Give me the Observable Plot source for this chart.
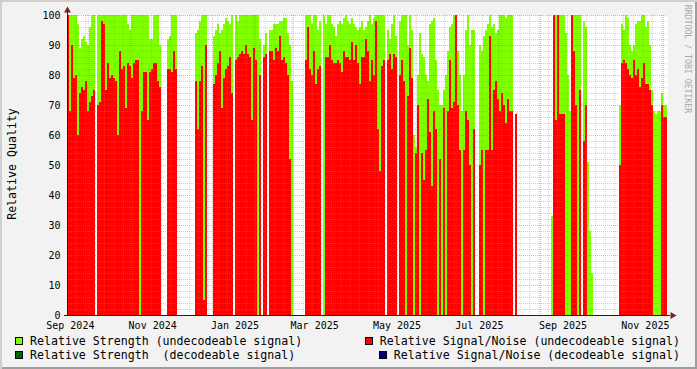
<!DOCTYPE html>
<html><head><meta charset="utf-8">
<script src="https://cdn.jsdelivr.net/npm/d3@7"></script>
<script src="https://cdn.jsdelivr.net/npm/@observablehq/plot@0.6"></script>
<style>
html,body{margin:0;padding:0;background:#fff;}
#chart{position:relative;width:697px;height:369px;background:#F2F2F2;box-shadow:inset 2px 2px 0 #CFCFCF, inset -2px -2px 0 #9E9E9E;font-family:"DejaVu Sans Mono",monospace;overflow:hidden;}
#chart svg{display:block;position:absolute;left:0;top:0;}
.legend-row{position:absolute;left:15px;right:17px;height:14px;display:flex;justify-content:space-between;align-items:center;font-size:11.6px;white-space:pre;color:#000;line-height:14px;}
.item{display:flex;align-items:center;}
.box{width:8px;height:8px;border:1px solid #000;box-sizing:border-box;margin-right:7px;}
#ylab{position:absolute;left:12px;top:164px;transform:translate(-50%,-50%) rotate(-90deg);font-size:11.6px;white-space:nowrap;color:#000;}
#wm{position:absolute;left:688px;top:59px;transform:translate(-50%,-50%) rotate(90deg);font-size:8.2px;white-space:nowrap;color:#a8a8a8;}
</style></head>
<body><div id="chart"></div>
<script>
// ---- data (one value per ~1.48-day sample) ----
const startTime = "2024-09-15T14:24:00Z";
const endTime = "2025-12-04T02:24:00Z";

const redSNR = [
100,68,90,79,80,60,74,76,75,78,
68,71,73,75,null,70,71,98,97,75,
84,79,80,79,78,60,88,82,83,69,
84,83,79,84,85,85,0,68,81,81,
65,81,82,84,84,78,76,null,null,null,
82,82,81,88,82,null,null,null,null,null,
null,null,null,null,78,62,78,83,5,90,
null,null,null,77,80,84,88,69,79,82,
83,86,74,null,85,86,87,88,87,90,
87,86,65,89,85,0,80,null,86,87,
null,88,88,85,89,88,93,85,86,84,
80,52,0,null,null,null,null,null,null,85,
96,82,80,88,77,82,83,null,0,86,
86,90,85,84,84,85,84,81,88,86,
86,85,91,85,90,84,77,86,86,92,
88,78,85,80,98,62,48,83,85,null,
85,87,82,87,86,null,80,85,78,0,
73,89,79,0,54,70,0,54,45,55,
72,61,43,68,62,0,52,0,69,0,
68,85,69,71,100,70,55,0,55,68,
65,50,0,62,null,null,50,55,0,55,
55,93,55,75,78,72,68,74,70,64,
72,68,68,null,67,null,null,null,null,null,
null,null,null,null,null,null,null,null,null,null,
null,null,0,100,65,100,67,67,67,0,
0,0,100,88,70,0,75,null,58,70,
0,0,0,null,null,null,null,null,null,null,
null,null,null,null,null,null,50,84,85,84,
82,80,79,85,80,82,76,79,84,77,
77,75,70,0,0,0,0,70,66,66
];

const greenStrength = [
100,100,100,100,100,97,89,92,93,91,
90,96,100,100,null,100,100,100,100,100,
100,100,100,100,100,100,100,100,100,100,
97,95,100,100,100,100,100,100,100,100,
100,92,92,100,100,100,90,null,null,null,
92,93,100,100,100,null,null,null,null,null,
null,null,null,null,94,95,98,100,100,100,
null,null,null,93,95,97,94,95,97,99,
98,97,100,null,100,98,100,100,100,100,
100,100,100,100,100,100,92,null,90,94,
null,95,95,97,97,97,98,98,99,99,
94,90,78,null,null,null,null,null,null,100,
100,100,97,100,100,95,98,null,100,97,
100,100,97,96,93,97,98,97,99,100,
98,97,99,97,96,95,96,98,95,96,
98,100,97,99,100,100,100,100,100,null,
95,92,97,100,93,null,98,100,100,100,
90,100,95,60,56,80,94,87,86,80,
78,97,98,99,85,75,70,70,75,80,
88,96,97,100,100,88,80,68,80,95,
100,90,95,95,null,null,90,88,93,95,
97,100,96,97,94,95,100,100,100,99,
100,100,100,null,67,null,null,null,null,null,
null,null,null,null,null,null,null,null,null,null,
null,null,33,100,100,100,100,100,100,94,
80,68,100,100,100,100,100,null,98,96,
51,28,14,null,null,null,null,null,null,null,
null,null,null,null,null,null,70,97,95,100,
99,90,88,90,97,98,98,100,100,96,
98,90,75,68,67,68,68,74,70,70
];

const yTicks = [0,10,20,30,40,50,60,70,80,90,100];
const xLabelMonths = ["2024-09-01","2024-11-01","2025-01-01","2025-03-01","2025-05-01","2025-07-01","2025-09-01","2025-11-01"];
const xLabels = ["Sep 2024","Nov 2024","Jan 2025","Mar 2025","May 2025","Jul 2025","Sep 2025","Nov 2025"];

const legendItems = [
  [{label:"Relative Strength (undecodeable signal)", color:"#7FFF00"}, {label:"Relative Signal/Noise (undecodeable signal)", color:"#FF0000"}],
  [{label:"Relative Strength  (decodeable signal)", color:"#006400"}, {label:"Relative Signal/Noise (decodeable signal)", color:"#000080"}]
];

// ---- build ----
const t0 = Date.parse(startTime), t1 = Date.parse(endTime);
const n = redSNR.length;
const step = (t1 - t0) / n;
const rows = redSNR.map((r, i) => ({
  x1: new Date(t0 + i * step), x2: new Date(t0 + (i + 1) * step),
  red: r, green: greenStrength[i]
}));
const start = new Date(t0), end = new Date(t1);

const labelDates = xLabelMonths.map(m => new Date(Date.parse(m) + 16.7 * 864e5));
const labelMap = new Map(labelDates.map((d, i) => [+d, xLabels[i]]));
const months = d3.utcMonth.range(start, end);
const weeks = d3.utcSunday.range(start, end).filter(d => d.getUTCDate() !== 1);
const yMinor = d3.range(2, 100, 2).filter(v => v % 10 !== 0);

const plot = Plot.plot({
  width: 697, height: 334,
  marginLeft: 67, marginRight: 30, marginTop: 15, marginBottom: 19,
  style: {background: "transparent", fontFamily: "DejaVu Sans Mono, monospace", fontSize: "10px", color: "#000"},
  x: {type: "utc", domain: [start, end]},
  y: {domain: [0, 100]},
  marks: [
    Plot.frame({fill: "white", stroke: null}),
    Plot.rectY(rows.filter(d => d.green != null), {x1: "x1", x2: "x2", y: "green", fill: "#7FFF00", shapeRendering: "crispEdges"}),
    Plot.rectY(rows.filter(d => d.red != null && d.red > 0), {x1: "x1", x2: "x2", y: "red", fill: "#FF0000", shapeRendering: "crispEdges"}),
    Plot.gridY(yMinor, {stroke: "#8f8f8f", strokeOpacity: 0.4, strokeDasharray: "1,1"}),
    Plot.gridX(weeks, {stroke: "#8f8f8f", strokeOpacity: 0.4, strokeDasharray: "1,1"}),
    Plot.gridY(yTicks.filter(v => v > 0), {stroke: "#de4f4f", strokeOpacity: 0.45, strokeDasharray: "1,1"}),
    Plot.gridX(months, {stroke: "#de4f4f", strokeOpacity: 0.45, strokeDasharray: "1,1"}),
    Plot.ruleY([0], {stroke: "#1F1F1F", insetLeft: -3, insetRight: -3}),
    Plot.ruleX([start], {stroke: "#1F1F1F", insetTop: -4}),
    Plot.dot([{x: end, y: 0}], {x: "x", y: "y", symbol: "triangle", rotate: 90, r: 2.6, fill: "#801F1F", stroke: null, dx: 5}),
    Plot.dot([{x: start, y: 100}], {x: "x", y: "y", symbol: "triangle", r: 2.6, fill: "#801F1F", stroke: null, dy: -5}),
    Plot.axisY(yTicks, {tickSize: 0, tickPadding: 7, label: null, fontSize: 10}),
    Plot.axisX(labelDates, {tickSize: 0, tickPadding: 6, label: null, fontSize: 10, tickFormat: d => labelMap.get(+d)})
  ]
});

const chart = document.getElementById("chart");
chart.appendChild(plot);

const ylab = document.createElement("div");
ylab.id = "ylab"; ylab.textContent = "Relative Quality";
chart.appendChild(ylab);

const wm = document.createElement("div");
wm.id = "wm"; wm.textContent = "RRDTOOL / TOBI OETIKER";
chart.appendChild(wm);

legendItems.forEach((row, ri) => {
  const r = document.createElement("div");
  r.className = "legend-row";
  r.style.top = (334 + ri * 13.5) + "px";
  row.forEach(it => {
    const item = document.createElement("div"); item.className = "item";
    const b = document.createElement("div"); b.className = "box"; b.style.background = it.color;
    const s = document.createElement("span"); s.textContent = it.label;
    item.appendChild(b); item.appendChild(s); r.appendChild(item);
  });
  chart.appendChild(r);
});
</script></body></html>
